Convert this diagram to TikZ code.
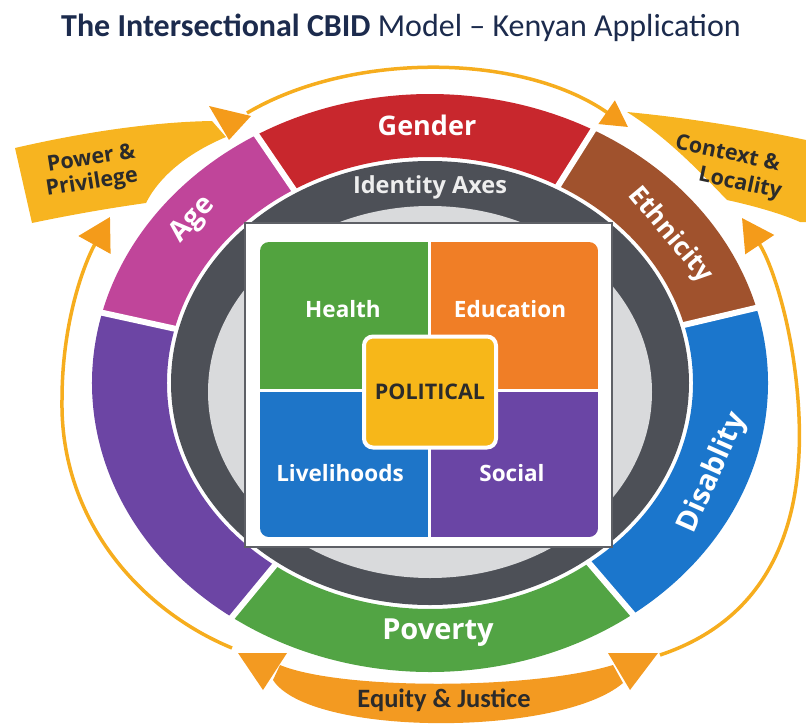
\documentclass[tikz,border=0pt]{standalone}
\usepackage{fontspec}
\setmainfont{Open Sans}
\newfontfamily\condfont{Carlito}
\usetikzlibrary{arrows.meta}

\definecolor{titlecol}{HTML}{1C2B4D}
\definecolor{gendercol}{HTML}{C8272D}
\definecolor{agecol}{HTML}{C0459A}
\definecolor{purplering}{HTML}{6C45A4}
\definecolor{povertycol}{HTML}{52A444}
\definecolor{disabcol}{HTML}{1B76CC}
\definecolor{ethcol}{HTML}{A0522D}
\definecolor{darkring}{HTML}{4D5057}
\definecolor{innergray}{HTML}{D9DADC}
\definecolor{boxline}{HTML}{5E6066}
\definecolor{healthcol}{HTML}{52A33F}
\definecolor{educol}{HTML}{F07E26}
\definecolor{livecol}{HTML}{1E75C8}
\definecolor{socialcol}{HTML}{6A45A5}
\definecolor{polcol}{HTML}{F7B719}
\definecolor{bannercol}{HTML}{F7B420}
\definecolor{arrowcol}{HTML}{F49B1A}
\definecolor{equitycol}{HTML}{F39A21}
\definecolor{arccol}{HTML}{F6AD1E}
\definecolor{textdark}{HTML}{2B2B2B}
\definecolor{axescol}{HTML}{EEEEEE}

\newcommand{\fsz}[1]{\fontsize{#1}{#1}\selectfont}

\begin{document}
\begin{tikzpicture}[x=1pt,y=1pt,
  seglabel/.style={text=white,font=\bfseries\fsz{27}},
  panellabel/.style={text=white,font=\bfseries\fsz{22.5}},
  bannerlabel/.style={text=textdark,font=\bfseries\fsz{21.5}},
  thinarc/.style={draw=arccol,line width=3.5pt}]

\useasboundingbox (0,0) rectangle (806,-726);

\node[text=titlecol,font=\condfont\fsz{32}] (title) at (401,-28) {\textbf{The Intersectional CBID} Model – Kenyan Application};

\begin{scope}[shift={(430,-383)}]
\foreach \a/\b/\col in {61/121/gendercol,121/166/agecol,166/234/purplering,234/307/povertycol,307/375/disabcol,375/421/ethcol}
  \fill[\col] (\a:338 and 289) arc[start angle=\a,end angle=\b,x radius=338,y radius=289]
    -- (\b:263 and 226) arc[start angle=\b,end angle=\a,x radius=263,y radius=226] -- cycle;
\foreach \a in {61,121,166,234,307,375}
  \draw[white,line width=6pt] (\a:250 and 213) -- (\a:350 and 301);
\fill[darkring] (0,0) ellipse[x radius=259,y radius=222];
\end{scope}
\fill[innergray] (430,-392) ellipse[x radius=222,y radius=186];

\fill[white,draw=boxline,line width=2pt] (245,-223) rectangle (612,-547);
\begin{scope}
\clip[rounded corners=9pt] (260,-242) rectangle (598,-537);
\fill[healthcol] (260,-242) rectangle (427.5,-388.5);
\fill[educol] (430.5,-242) rectangle (598,-388.5);
\fill[livecol] (260,-391.5) rectangle (427.5,-537);
\fill[socialcol] (430.5,-391.5) rectangle (598,-537);
\end{scope}

\node[panellabel] (health) at (343,-309) {Health};
\node[panellabel] (education) at (510,-309) {Education};
\node[panellabel] (livelihoods) at (340,-473) {Livelihoods};
\node[panellabel] (social) at (512,-473) {Social};
\node[draw=white,line width=4pt,fill=polcol,rounded corners=9pt,minimum width=132pt,minimum height=111pt,text=textdark,font=\bfseries\fsz{21.5}] (political) at (430,-392) {POLITICAL};

\node[text=axescol,font=\bfseries\fsz{23.5}] (axes) at (430,-187) {Identity Axes};
\node[seglabel] (gender) at (427,-125) {Gender};
\node[seglabel,font=\bfseries\fsz{28},rotate=48] (age) at (193,-220) {Age};
\node[seglabel,font=\bfseries\fsz{26},rotate=-50] (ethnicity) at (670,-235) {Ethnicity};
\node[seglabel,font=\bfseries\fsz{29},rotate=66] (disability) at (713,-473) {Disablity};
\node[seglabel,font=\bfseries\fsz{29}] (poverty) at (438,-633) {Poverty};

\fill[bannercol] (15,-148) .. controls (80,-133) and (150,-122) .. (212,-121) -- (226,-137) .. controls (190,-152) and (160,-175) .. (146,-203) .. controls (110,-208) and (70,-215) .. (32,-223) -- cycle;
\fill[arrowcol] (209,-106) -- (251,-116) -- (229,-140) -- cycle;
\node[bannerlabel,rotate=9] (power) at (91,-157) {Power \&};
\node[bannerlabel,rotate=9] (privilege) at (92,-183) {Privilege};

\fill[bannercol] (627,-112) .. controls (690,-118) and (750,-128) .. (806,-140) -- (806,-222) -- (800,-222) .. controls (780,-213) and (750,-205) .. (727,-200) .. controls (700,-172) and (668,-138) .. (627,-112) -- cycle;
\node[bannerlabel,rotate=-12] (context) at (728,-152) {Context \&};
\node[bannerlabel,rotate=-12] (locality) at (740,-184) {Locality};

\coordinate (topstart) at (247,-113);
\coordinate (topend) at (628,-127);
\coordinate (leftstart) at (232,-648);
\coordinate (leftend) at (110,-217);
\coordinate (rightstart) at (660,-655);
\coordinate (rightend) at (742,-218);

\draw[thinarc,-{Triangle[length=26pt,width=28pt,color=arrowcol]}] (topstart) .. controls (350,-52) and (520,-52) .. (topend);
\draw[thinarc,-{Triangle[length=32pt,width=36pt,color=arrowcol]}] (leftstart) .. controls (140,-610) and (60,-520) .. (62,-400) .. controls (62,-320) and (85,-262) .. (leftend);
\draw[thinarc,-{Triangle[length=32pt,width=34pt,color=arrowcol]}] (rightstart) .. controls (765,-620) and (808,-530) .. (798,-400) .. controls (792,-320) and (770,-260) .. (rightend);

\fill[equitycol] (280,-665) .. controls (340,-690) and (530,-690) .. (613,-665) -- (623,-683) .. controls (560,-737) and (310,-737) .. (273,-680) -- cycle;
\fill[equitycol] (238,-653) -- (287,-653) -- (263,-690) -- cycle;
\fill[equitycol] (608,-653) -- (658,-653) -- (630,-690) -- cycle;
\node[text=textdark,font=\condfont\bfseries\fsz{26.5}] (equity) at (444,-700) {Equity \& Justice};

\end{tikzpicture}
\end{document}
